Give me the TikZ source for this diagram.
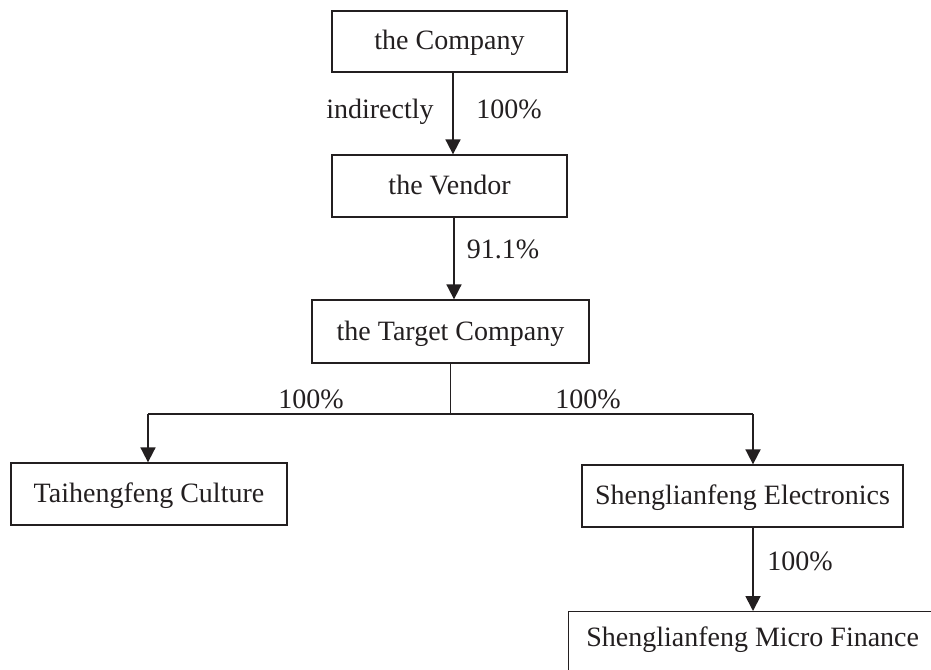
\documentclass[tikz,border=0pt]{standalone}
\usepackage{fontspec}
\setmainfont{Liberation Serif}
\usetikzlibrary{arrows.meta}
\definecolor{ink}{HTML}{231F20}
\begin{document}
\begin{tikzpicture}[x=1pt,y=-1pt,
  box/.style={draw=ink, line width=1.3pt, text=ink, font=\fontsize{28}{31}\selectfont, inner sep=0pt, text height=20.5pt, text depth=3.5pt},
  lbl/.style={text=ink, font=\fontsize{28}{31}\selectfont, inner sep=0pt, text height=20.5pt, text depth=3.5pt},
  arr/.style={draw=ink, line width=1.8pt, -{Triangle[length=15pt,width=15pt]}},
  ln/.style={draw=ink, line width=1.6pt}]
\useasboundingbox (0,0) rectangle (931,669);
\clip (0,0) rectangle (931,669);
\node[box, minimum width=235pt, minimum height=61pt] (comp) at (449.5,41.5) {the Company};
\node[box, minimum width=235pt, minimum height=62pt] (vend) at (449.5,186) {the Vendor};
\node[box, minimum width=277pt, minimum height=63pt] (targ) at (450.5,331.5) {the Target Company};
\node[box, minimum width=276pt, minimum height=62pt] (taih) at (149,494) {Taihengfeng Culture};
\node[box, minimum width=321pt, minimum height=62pt] (elec) at (742.5,496) {Shenglianfeng Electronics};
\node[box, anchor=north west, minimum width=368pt, inner sep=0pt, text height=35pt, text depth=60pt] (micro) at (568,611) {Shenglianfeng Micro Finance};
\coordinate (jl) at (148,414);
\coordinate (jr) at (753,414);
\node[lbl] (l1) at (380,110) {indirectly};
\node[lbl] (l2) at (509,110) {100\%};
\node[lbl] (l3) at (503,250) {91.1\%};
\node[lbl] (l4) at (311,400) {100\%};
\node[lbl] (l5) at (588,400) {100\%};
\node[lbl] (l6) at (800,562) {100\%};
\draw[arr] (comp.south -| 453,0) -- (vend.north -| 453,0);
\draw[arr] (vend.south -| 454,0) -- (targ.north -| 454,0);
\draw[ln] (targ.south) -- (targ.south |- jl);
\draw[ln] (jl) -- (jr);
\draw[arr] (jl) -- (jl |- taih.north);
\draw[arr] (jr) -- (jr |- elec.north);
\draw[arr] (elec.south -| jr) -- (micro.north -| jr);
\end{tikzpicture}
\end{document}
